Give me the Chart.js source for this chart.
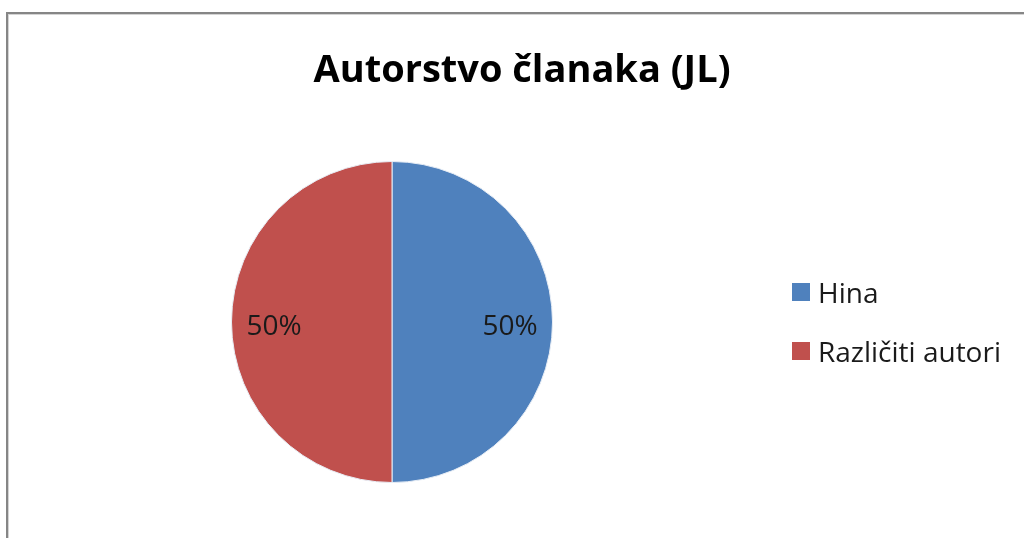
<!DOCTYPE html>
<html>
<head>
<meta charset="utf-8">
<script src="https://cdn.jsdelivr.net/npm/chart.js@4/dist/chart.umd.min.js"></script>
<style>
  html, body { margin: 0; padding: 0; background: #fff; overflow: hidden; }
  canvas { display: block; }
</style>
</head>
<body>
<canvas id="chart" width="1024" height="538"></canvas>
<script>
const chartTitle = 'Autorstvo članaka (JL)';
const categories = ['Hina', 'Različiti autori'];
const shares = [50, 50];
const sliceColors = ['#4F81BD', '#C0504D'];

const FONT = '"Open Sans", Calibri, sans-serif';

// frame + title, drawn behind the pie
const frame = {
  id: 'frame',
  beforeDraw(chart) {
    const ctx = chart.ctx;
    ctx.save();
    ctx.fillStyle = '#fff';
    ctx.fillRect(0, 0, chart.width, chart.height);
    ctx.fillStyle = '#868686';
    ctx.fillRect(6, 12, chart.width, 2);
    ctx.fillRect(6, 12, 2, chart.height);
    ctx.fillStyle = '#d4d4d4';
    ctx.fillRect(8, 14, chart.width, 1);
    ctx.fillRect(8, 14, 1, chart.height);
    ctx.fillStyle = '#000';
    ctx.font = 'bold 38px ' + FONT;
    ctx.textAlign = 'center';
    ctx.textBaseline = 'alphabetic';
    ctx.fillText(chartTitle, 522, 82);
    ctx.restore();
  }
};

// percentage labels inside the slices
const sliceLabels = {
  id: 'sliceLabels',
  afterDatasetsDraw(chart) {
    const ctx = chart.ctx;
    const meta = chart.getDatasetMeta(0);
    const data = chart.data.datasets[0].data;
    const total = data.reduce((a, b) => a + b, 0);
    ctx.save();
    ctx.font = '28px ' + FONT;
    ctx.fillStyle = '#1a1a1a';
    ctx.textAlign = 'center';
    ctx.textBaseline = 'alphabetic';
    meta.data.forEach((arc, i) => {
      const p = arc.getProps(['x', 'y', 'startAngle', 'endAngle', 'outerRadius'], true);
      const mid = (p.startAngle + p.endAngle) / 2;
      const r = p.outerRadius * 0.735;
      const pct = Math.round(data[i] / total * 100) + '%';
      ctx.fillText(pct, p.x + Math.cos(mid) * r, p.y + Math.sin(mid) * r + 13);
    });
    ctx.restore();
  }
};

// legend on the right
const sideLegend = {
  id: 'sideLegend',
  afterDraw(chart) {
    const ctx = chart.ctx;
    const colors = chart.data.datasets[0].backgroundColor;
    ctx.save();
    ctx.font = '28px ' + FONT;
    ctx.textAlign = 'left';
    ctx.textBaseline = 'alphabetic';
    chart.data.labels.forEach((label, i) => {
      const y = 283 + i * 59;
      ctx.fillStyle = colors[i];
      ctx.fillRect(792, y, 18, 18);
      ctx.fillStyle = '#1a1a1a';
      ctx.fillText(label, 818, y + 20);
    });
    ctx.restore();
  }
};

new Chart(document.getElementById('chart'), {
  type: 'pie',
  data: {
    labels: categories,
    datasets: [{
      data: shares,
      backgroundColor: sliceColors,
      borderColor: '#e8eef6',
      borderWidth: 1
    }]
  },
  options: {
    responsive: false,
    animation: false,
    devicePixelRatio: 1,
    layout: {
      padding: { left: 231, right: 471, top: 161, bottom: 55 }
    },
    plugins: {
      legend: { display: false },
      title: { display: false },
      tooltip: { enabled: false }
    }
  },
  plugins: [frame, sliceLabels, sideLegend]
});
</script>
</body>
</html>
